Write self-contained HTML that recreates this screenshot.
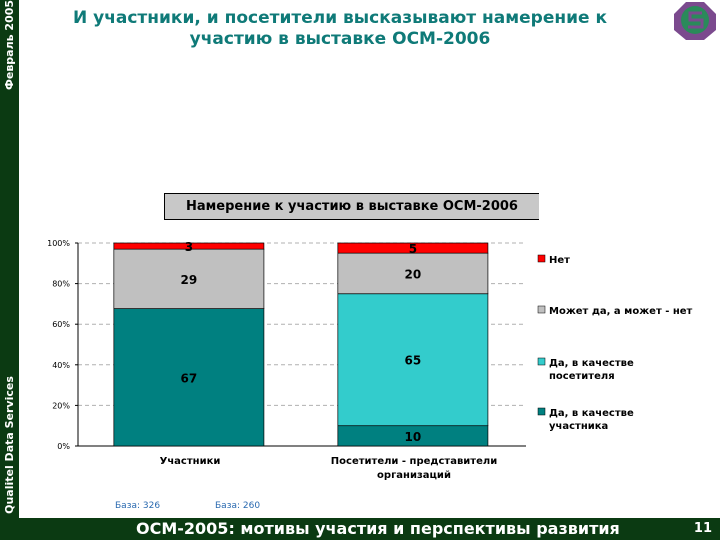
<!DOCTYPE html>
<html><head><meta charset="utf-8"><style>
body{margin:0;width:720px;height:540px;overflow:hidden;background:#fff;font-family:"DejaVu Sans","Liberation Sans",sans-serif;position:relative}
.abs{position:absolute}
</style></head><body>
<div class="abs" style="left:0;top:0;width:19px;height:540px;background:#0b3a12"></div>
<div class="abs" style="left:-40px;top:38px;width:100px;height:14px;transform:rotate(-90deg);color:#fff;font-size:11px;font-weight:bold;text-align:center;white-space:nowrap">Февраль 2005</div>
<div class="abs" style="left:-70px;top:438px;width:160px;height:14px;transform:rotate(-90deg);color:#fff;font-size:11px;font-weight:bold;text-align:center;white-space:nowrap">Qualitel Data Services</div>
<div class="abs" style="left:40px;top:8px;width:600px;text-align:center;color:#0f7a78;font-size:17px;font-weight:bold;line-height:21px">И участники, и посетители высказывают намерение к<br>участию в выставке ОСМ-2006</div>
<svg class="abs" style="left:672px;top:0" width="48" height="40"><polygon points="14,2 32,2 44,14 44,30 32,40 14,40 2,30 2,14" fill="#7b4a8e"/><circle cx="23" cy="20" r="14" fill="#2a8a5a"/><path d="M30,13 H18 V20 H30 V27 H16" stroke="#7b4a8e" stroke-width="3" fill="none"/></svg>
<div class="abs" style="left:164px;top:193px;width:374px;height:25px;background:#c8c8c8;border:1px solid #000;border-right:none;font-size:13px;font-weight:bold;line-height:25px;text-align:center">Намерение к участию в выставке ОСМ-2006</div>
<svg id="chart" class="abs" style="left:0;top:0" width="720" height="540"></svg>
<div class="abs" style="left:115px;top:501px;font-size:9px;color:#2a6ab0">База: 326</div>
<div class="abs" style="left:215px;top:501px;font-size:9px;color:#2a6ab0">База: 260</div>
<div class="abs" style="left:19px;top:518px;width:701px;height:22px;background:#0b3a12;color:#fff;font-size:16px;font-weight:bold;line-height:22px"><span style="position:absolute;left:117px">ОСМ-2005: мотивы участия и перспективы развития</span><span style="position:absolute;right:8px;font-size:13px">11</span></div>
<script>
const categories=["Участники","Посетители - представители организаций"];
const seriesNames=["Да, в качестве участника","Да, в качестве посетителя","Может да, а может - нет","Нет"];
const seriesColors=["#008080","#33cccc","#c0c0c0","#ff0000"];
const participantValues=[67,0,29,3];
const visitorValues=[10,65,20,5];
const yTicks=[0,20,40,60,80,100];
const values=[participantValues,visitorValues];
const svg=document.getElementById('chart');
const NS="http://www.w3.org/2000/svg";
const x0=78,x1=526,yTop=243,yBot=446;
const y=v=>yBot-(yBot-yTop)*v/100;
const bandW=(x1-x0)/categories.length;
function mk(t,a){const e=document.createElementNS(NS,t);for(const k in a)e.setAttribute(k,a[k]);svg.appendChild(e);return e;}
yTicks.forEach(t=>{
 if(t>0){const g=mk('line',{x1:x0,x2:x1,y1:y(t),y2:y(t),stroke:'#b0b0b0','stroke-dasharray':'4,3'});
 
 }
 const l=mk('text',{x:x0-8,y:y(t)+3,'font-size':8,'text-anchor':'end','font-family':'DejaVu Sans, sans-serif'});l.textContent=t+'%';
 
 
 mk('line',{x1:x0-3,x2:x0,y1:y(t),y2:y(t),stroke:'#000'});
});
const ax=mk('line',{x1:x0,x2:x0,y1:yTop,y2:yBot,stroke:'#000'});


const xa=mk('line',{x1:x0,x2:x1,y1:yBot,y2:yBot,stroke:'#000'});


values.forEach((vals,i)=>{
 const tot=vals.reduce((a,b)=>a+b,0);
 const bx=x0+bandW*i+bandW*0.16,bw=bandW*0.67;
 let cum=0;
 vals.forEach((v,s)=>{
  if(v<=0)return;
  const ya=y((cum+v)/tot*100),yb=y(cum/tot*100);cum+=v;
  const r=mk('rect',{x:bx,y:ya,width:bw,height:yb-ya,fill:seriesColors[s],stroke:'#000','stroke-width':0.7});
  
  
  const t=mk('text',{x:bx+bw/2,y:(ya+yb)/2+5,'font-size':12,'font-weight':'bold','text-anchor':'middle','font-family':'DejaVu Sans, sans-serif'});t.textContent=v;
  
  
 });
 const words=categories[i].length>20?["Посетители - представители","организаций"]:[categories[i]];
 words.forEach((w,k)=>{const t=mk('text',{x:x0+bandW*(i+0.5),y:464+k*14,'font-size':10,'font-weight':'bold','text-anchor':'middle','font-family':'DejaVu Sans, sans-serif'});t.textContent=w;
 
 });
});
const legY=[259,310,362,412];
const legLines=[["Нет"],["Может да, а может - нет"],["Да, в качестве","посетителя"],["Да, в качестве","участника"]];
[3,2,1,0].forEach((s,k)=>{
 const r=mk('rect',{x:538,y:legY[k]-4,width:7,height:7,fill:seriesColors[s],stroke:'#000','stroke-width':0.5});
 
 
 legLines[k].forEach((w,j)=>{const t=mk('text',{x:549,y:legY[k]+4+j*13,'font-size':10,'font-weight':'bold','font-family':'DejaVu Sans, sans-serif'});t.textContent=w;
 
 });
});
</script>
</body></html>
